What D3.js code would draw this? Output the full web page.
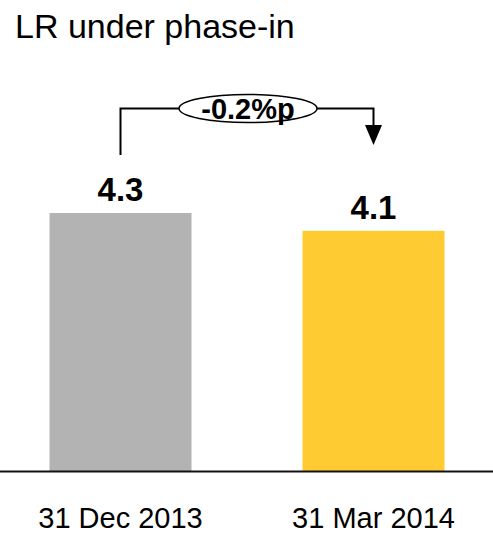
<!DOCTYPE html>
<html>
<head>
<meta charset="utf-8">
<script src="https://cdn.jsdelivr.net/npm/d3@7"></script>
<style>
  html, body { margin: 0; padding: 0; background: #ffffff; }
  svg { display: block; font-family: Arial, "Liberation Sans", sans-serif; }
</style>
</head>
<body>
<svg id="chart" width="493" height="533"></svg>
<script>
// Leverage ratio under phase-in, two reporting dates
const categories = ["31 Dec 2013", "31 Mar 2014"];
const values = [4.3, 4.1];
const valueLabels = ["4.3", "4.1"];
const barColors = ["#b3b3b3", "#ffcb33"];
const changeLabel = "-0.2%p";
const title = "LR under phase-in";

const svg = d3.select("#chart");
const W = 493, H = 533;
const baseY = 471, barW = 142;

// bar centres
const x = d3.scalePoint().domain(categories).range([120.5, 373.5]);
// value axis (truncated base, no visible axis)
const y = d3.scaleLinear().domain([1.4, 4.3]).range([baseY, 213]);

// title
svg.append("text")
  .attr("x", 15).attr("y", 38)
  .attr("font-size", 34)
  .attr("fill", "#000")
  .text(title);

// bars
svg.selectAll("rect.bar")
  .data(categories)
  .join("rect")
  .attr("class", "bar")
  .attr("x", d => x(d) - barW / 2)
  .attr("width", barW)
  .attr("y", (d, i) => y(values[i]))
  .attr("height", (d, i) => baseY - y(values[i]))
  .attr("fill", (d, i) => barColors[i]);

// value labels
svg.selectAll("text.val")
  .data(categories)
  .join("text")
  .attr("class", "val")
  .attr("x", d => x(d))
  .attr("y", (d, i) => y(values[i]) - 12)
  .attr("text-anchor", "middle")
  .attr("font-size", 33)
  .attr("font-weight", "bold")
  .attr("fill", "#000")
  .text((d, i) => valueLabels[i]);

// baseline
svg.append("line")
  .attr("x1", 0).attr("x2", W)
  .attr("y1", baseY + 0.5).attr("y2", baseY + 0.5)
  .attr("stroke", "#111").attr("stroke-width", 2);

// category labels
svg.selectAll("text.cat")
  .data(categories)
  .join("text")
  .attr("class", "cat")
  .attr("x", d => x(d))
  .attr("y", 528)
  .attr("text-anchor", "middle")
  .attr("font-size", 29)
  .attr("fill", "#000")
  .text(d => d);

// change bracket with arrow
const x0 = x(categories[0]), x1 = x(categories[1]);
const bracketY = 108.5;
const ex = (x0 + x1) / 2 + 1, erx = 69, ery = 14;

svg.append("path")
  .attr("d", `M${x0},155 V${bracketY} H${x1} V128`)
  .attr("fill", "none")
  .attr("stroke", "#000")
  .attr("stroke-width", 2);

svg.append("path")
  .attr("d", `M${x1 - 8.5},125 L${x1 + 8.5},125 L${x1},145 Z`)
  .attr("fill", "#000");

svg.append("ellipse")
  .attr("cx", ex).attr("cy", bracketY)
  .attr("rx", erx).attr("ry", ery)
  .attr("fill", "#fff")
  .attr("stroke", "#000")
  .attr("stroke-width", 1.5);

svg.append("text")
  .attr("x", ex).attr("y", 118.5)
  .attr("text-anchor", "middle")
  .attr("font-size", 29)
  .attr("font-weight", "bold")
  .attr("fill", "#000")
  .text(changeLabel);
</script>
</body>
</html>
